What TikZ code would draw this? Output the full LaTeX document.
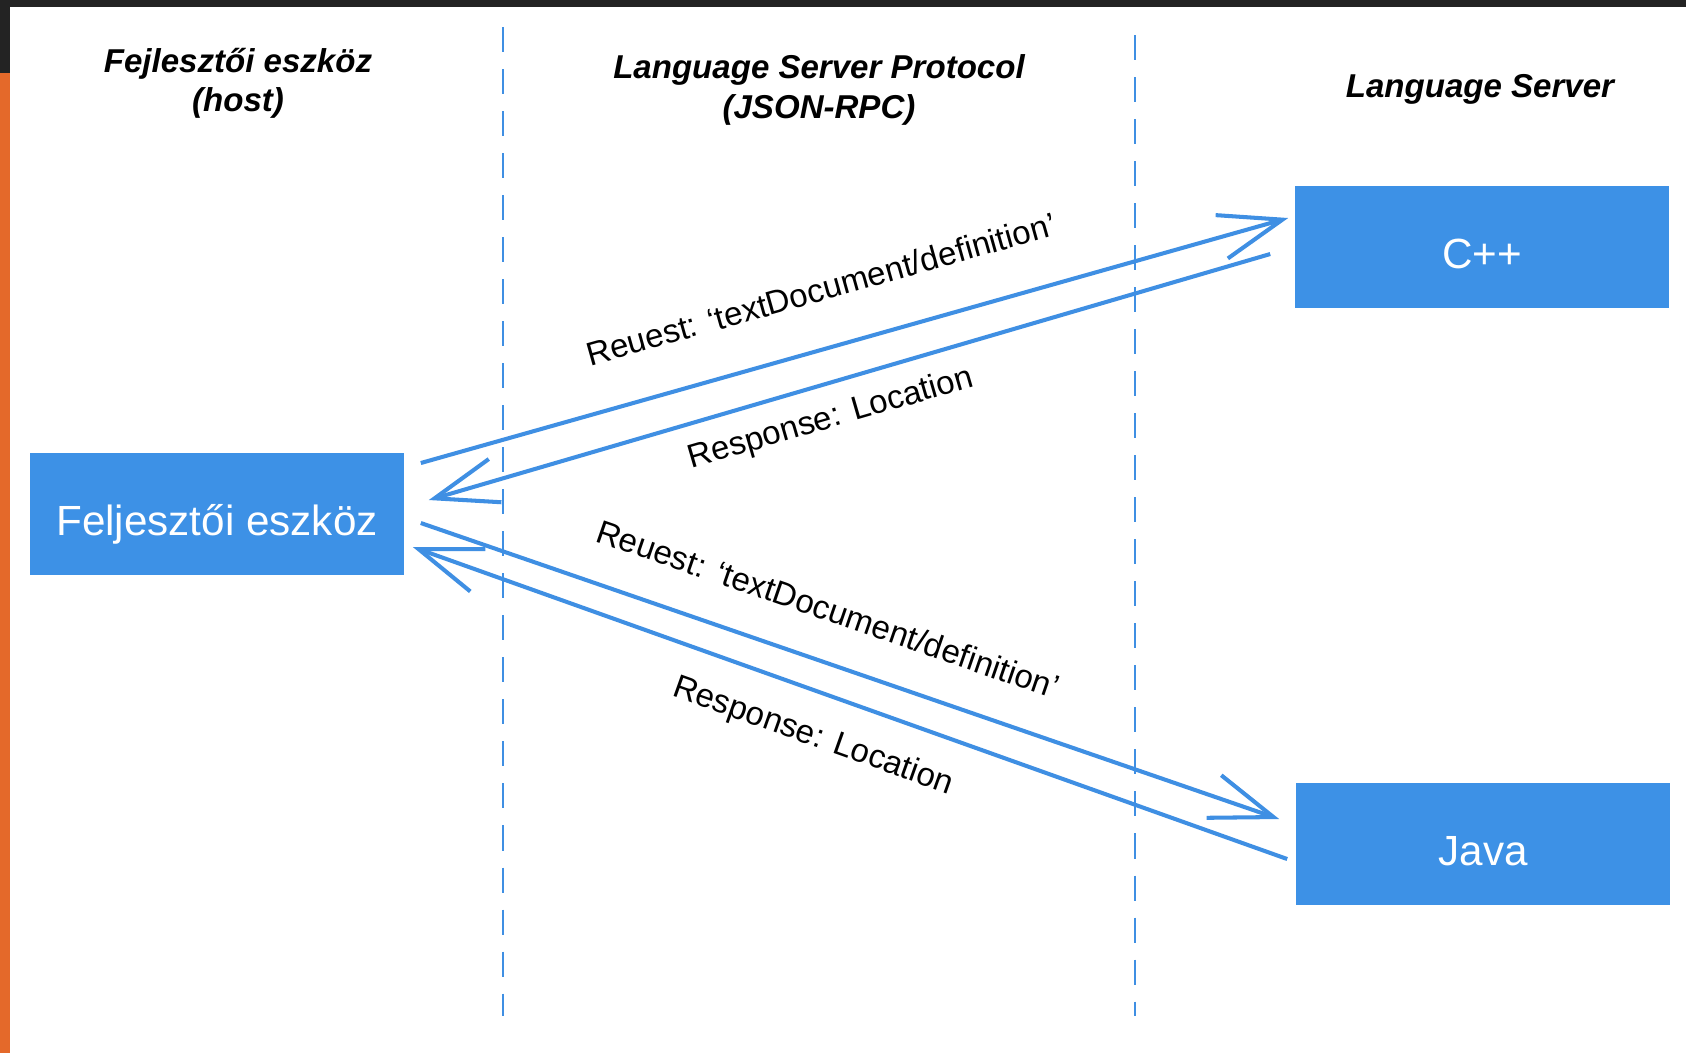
\documentclass[tikz,border=0pt]{standalone}
\usepackage{fontspec}
\setmainfont{Liberation Sans}
\usetikzlibrary{arrows.meta,calc}
\definecolor{boxblue}{HTML}{3D91E6}
\definecolor{lineblue}{HTML}{3F8FE3}
\definecolor{darkbar}{HTML}{232323}
\definecolor{orangebar}{HTML}{E4692A}

\tikzset{
  box/.style={fill=boxblue, text=white, minimum width=3.74cm, minimum height=1.22cm, inner sep=0pt,
    text height=12pt, text depth=0pt, font=\fontsize{12}{14}\selectfont},
  head/.style={align=center, font=\fontsize{9.4}{11.2}\selectfont\bfseries\itshape},
  lbl/.style={inner sep=0pt, font=\fontsize{9.4}{11}\selectfont},
  msg/.style={draw=lineblue, line width=1.15pt, -{Straight Barb[length=6.3mm,width=4.5mm]}},
  divider/.style={draw=lineblue, line width=0.6pt, dash pattern=on 2.5mm off 1.7mm},
}

\begin{document}
\begin{tikzpicture}[x=0.01cm, y=-0.01cm]
\useasboundingbox (0,0) rectangle (1686,1053);
%背景
\fill[white] (0,0) rectangle (1686,1053);
\fill[darkbar] (0,0) rectangle (1686,7);
\fill[darkbar] (0,0) rectangle (10,73);
\fill[orangebar] (0,73) rectangle (10,1053);

%見出し
\node[head] (hosthead) at (238,83) {Fejlesztői eszköz\\(host)};
\node[head] (lsphead) at (819,90) {Language Server Protocol\\(JSON-RPC)};
\node[head] (serverhead) at (1480,89) {Language Server};

%区切り線
\draw[divider] (503,27) -- (503,1016);
\draw[divider] (1135,35) -- (1135,1016);

%ノード
\node[box] (host) at (217,514) {Feljesztői eszköz};
\node[box] (cpp) at (1482,247) {C++};
\node[box] (java) at (1483,844) {Java};

%矢印
\draw[msg] ($(host.east)+(16,-51)$) -- ($(cpp.west)+(-6,-29)$);
\draw[msg] ($(cpp.west)+(-24,7)$) -- ($(host.east)+(24,-14)$);
\draw[msg] ($(host.east)+(16,9)$) -- ($(java.west)+(-16,-25)$);
\draw[msg] ($(java.west)+(-8,15)$) -- ($(host.east)+(8,33)$);

%ラベル
\node[lbl, rotate=15.7] (req1) at (821,289) {Reuest: ‘textDocument/definition’};
\node[lbl, rotate=16.2] (resp1) at (831,419) {Response: Location};
\node[lbl, rotate=-19] (req2) at (828,609) {Reuest: ‘textDocument/definition’};
\node[lbl, rotate=-19.6] (resp2) at (813,737) {Response: Location};
\end{tikzpicture}
\end{document}
